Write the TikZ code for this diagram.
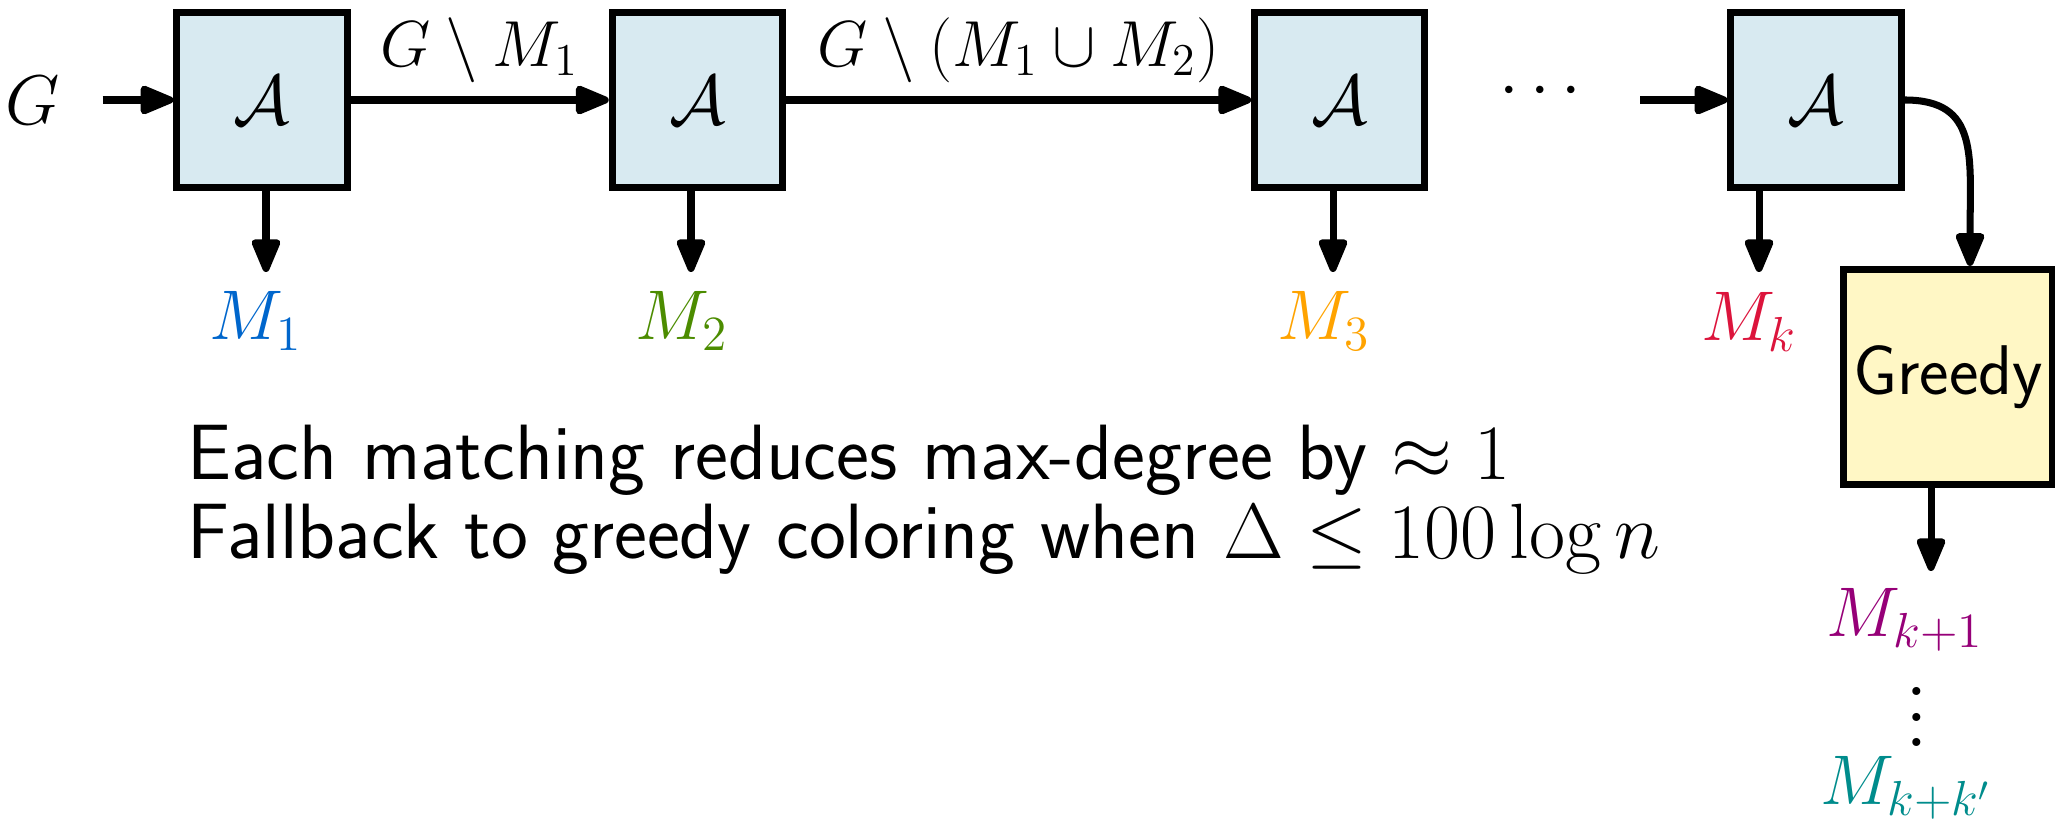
\RequirePackage{fix-cm}
\documentclass[tikz,border=0pt]{standalone}
\usepackage{amsmath,amssymb}
\usepackage{fontspec}
\usetikzlibrary{arrows.meta,positioning,calc}
\definecolor{algfill}{RGB}{216,234,241}
\definecolor{greedyfill}{RGB}{255,247,197}
\definecolor{mone}{RGB}{0,102,204}
\definecolor{mtwo}{RGB}{76,140,0}
\definecolor{mthree}{RGB}{255,163,0}
\definecolor{mk}{RGB}{220,20,60}
\definecolor{mkone}{RGB}{150,0,120}
\definecolor{mkk}{RGB}{0,140,140}
\newcommand{\cA}{\mathcal A}
\newcommand{\tallvdots}{\vbox{\baselineskip=7.2pt\lineskiplimit=-10pt\hbox{.}\hbox{.}\hbox{.}}}

\begin{document}
\begin{tikzpicture}[x=0.01cm,y=-0.01cm,>={Triangle[round,length=3.9mm,width=3mm]},
  line width=2pt,font=\fontsize{20}{24}\selectfont,
  alg/.style={draw,fill=algfill,minimum width=1.7cm,minimum height=1.74cm,inner sep=0pt},
  greedybox/.style={draw,fill=greedyfill,minimum width=2.08cm,minimum height=2.15cm,inner sep=0pt,font=\fontsize{20}{24}\selectfont\sffamily},
  lab/.style={inner sep=2pt,font=\fontsize{20}{24}\selectfont},
  edgelab/.style={inner sep=4pt,font=\fontsize{18.5}{22}\selectfont}]
\useasboundingbox (0,0) rectangle (2055,819);
% chain of matchings
\node (gin) [inner xsep=0.39cm,inner ysep=0pt] at (33,100) {$G$};
\node (a1) [alg] at (262,100) {$\cA$};
\node (a2) [alg,right=2.58cm of a1] {$\cA$};
\node (a3) [alg,right=4.65cm of a2] {$\cA$};
\node (dots) [inner xsep=0.44cm] at (1546,92) {$\cdots$};
\node (a4) [alg,right=2.99cm of a3] {$\cA$};
\node (greedy) [greedybox] at (1948,377) {Greedy};
\draw[->] (gin) -- (a1);
\draw[->] (a1) -- node[edgelab,above]{$G\setminus M_1$} (a2);
\draw[->] (a2) -- node[edgelab,above]{$G\setminus(M_1\cup M_2)$} (a3);
\draw[->] (dots.east |- a4) -- (a4);
\draw[->] (a4.east) .. controls +(75,0) and +(0,-110) .. ([xshift=0.22cm]greedy.north);
% outputs
\coordinate (t1) at (266,272);
\coordinate (t2) at (691,272);
\coordinate (t3) at (1333,272);
\coordinate (t4) at (1759,272);
\coordinate (t5) at (1931,571);
\draw[->] (a1.south -| t1) -- (t1);
\draw[->] (a2.south -| t2) -- (t2);
\draw[->] (a3.south -| t3) -- (t3);
\draw[->] (a4.south -| t4) -- (t4);
\draw[->] (greedy.south -| t5) -- (t5);
\node (m1) [lab,text=mone] at (256,321) {$M_1$};
\node (m2) [lab,text=mtwo] at (682,321) {$M_2$};
\node (m3) [lab,text=mthree] at (1324,321) {$M_3$};
\node (mk) [lab,text=mk] at (1749,322) {$M_k$};
\node (mk1) [lab,text=mkone] at (1905,620) {$M_{k+1}$};
\node (vd) [inner sep=0pt,font=\fontsize{28}{7.2}\selectfont] at (1917,717) {\tallvdots};
\node (mkk) [lab,text=mkk] at (1906,788) {$M_{k+k'}$};
% remark
\node (note) [anchor=west,inner sep=0pt,align=left,font=\fontsize{22.3}{22.4}\selectfont\sffamily] at (184,500)
  {Each matching reduces max-degree by $\approx 1$\\Fallback to greedy coloring when $\Delta\leq 100\log n$};
\end{tikzpicture}
\end{document}
